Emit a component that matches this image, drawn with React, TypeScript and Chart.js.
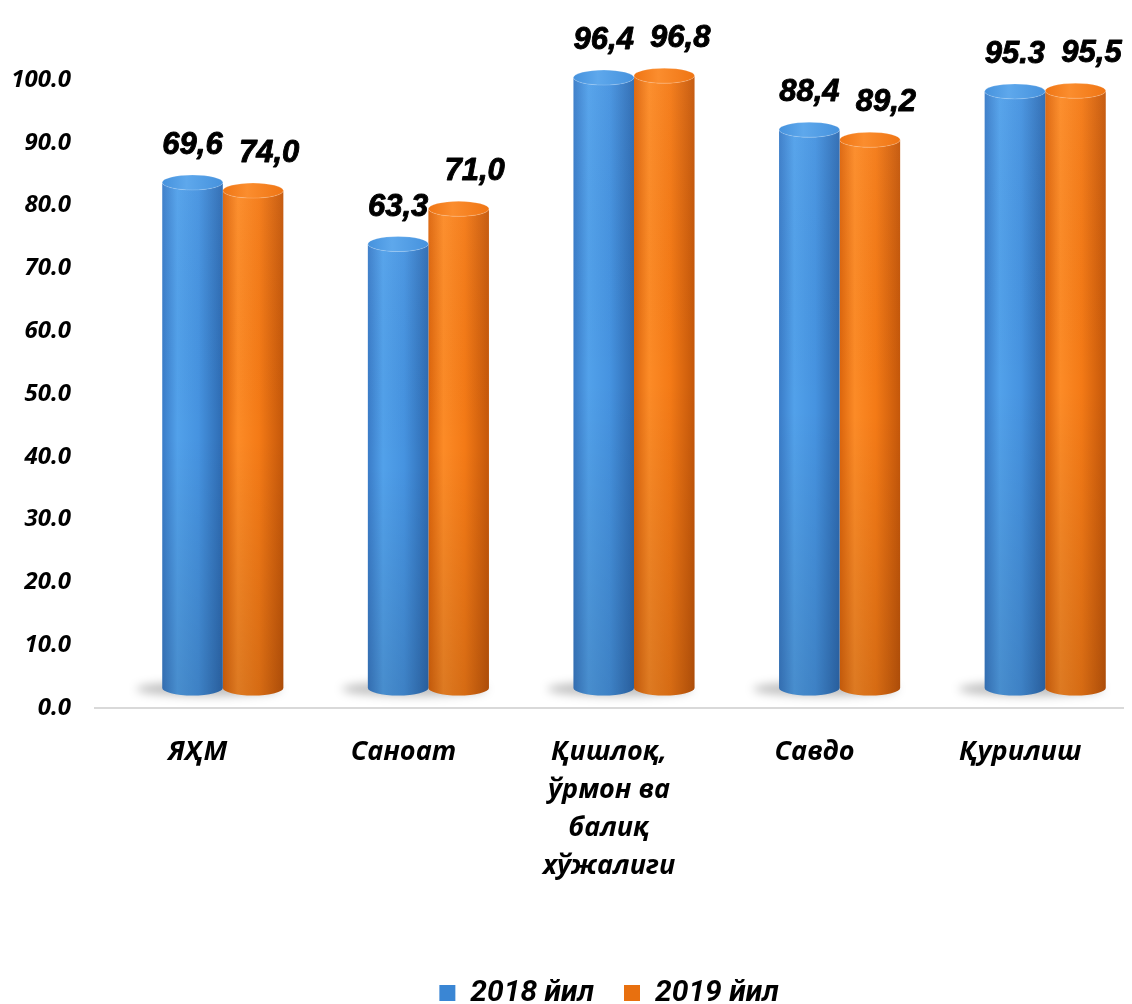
import React, { useEffect, useRef } from 'react';
import { Chart, registerables } from 'chart.js';

Chart.register(...registerables);

// ---------- data ----------
const categories: (string | string[])[] = [
  'ЯҲМ',
  'Саноат',
  ['Қишлоқ,', 'ўрмон ва', 'балиқ', 'хўжалиги'],
  'Савдо',
  'Қурилиш',
];
const seriesNames = ['2018 йил', '2019 йил'];
const values2018 = [80.5, 70.7, 97.2, 88.9, 95.0];
const values2019 = [79.2, 76.3, 97.5, 87.3, 95.1];
const valueLabels2018 = ['69,6', '63,3', '96,4', '88,4', '95.3'];
const valueLabels2019 = ['74,0', '71,0', '96,8', '89,2', '95,5'];
const yMin = 0;
const yMax = 100;
const yStep = 10;

// ---------- styles ----------
const CAL_FONT = "'Open Sans', 'Noto Sans', sans-serif";
const ARIAL_FONT = "'Liberation Sans', Arial, sans-serif";
const LEGEND_FONT = "Roboto, 'Liberation Sans', sans-serif";
const PALETTE = [
  {
    side: ['#3a7cc8', '#52a1ea', '#4693e0', '#2e6bb2'],
    top: '#4692dd', topLight: '#5ea8ec', legend: '#3a86d4',
  },
  {
    side: ['#dc650c', '#fc8b27', '#f47a16', '#c4570a'],
    top: '#ef7514', topLight: '#fb8d2e', legend: '#e8700f',
  },
];
const SIDE_STOPS = [0, 0.25, 0.6, 1];
const DEPTH_DX = 25;
const DEPTH_DY = -20;
const CAP_RY = 7.5;
const LABEL_GAP = 21;
const LABEL_DX = [0, 16];

function drawCylinder(ctx: CanvasRenderingContext2D, x: number, yTop: number, yBase: number, w: number, c: any) {
  const rx = w / 2;
  const ry = CAP_RY;
  const side = ctx.createLinearGradient(x - rx, 0, x + rx, 0);
  c.side.forEach((col: string, k: number) => side.addColorStop(SIDE_STOPS[k], col));
  ctx.beginPath();
  ctx.moveTo(x - rx, yTop);
  ctx.lineTo(x - rx, yBase);
  ctx.ellipse(x, yBase, rx, ry, 0, Math.PI, 0, true);
  ctx.lineTo(x + rx, yTop);
  ctx.ellipse(x, yTop, rx, ry, 0, 0, Math.PI, false);
  ctx.closePath();
  ctx.fillStyle = side;
  ctx.fill();
  const vg = ctx.createLinearGradient(0, yTop, 0, yBase);
  vg.addColorStop(0, 'rgba(255,255,255,0.04)');
  vg.addColorStop(0.5, 'rgba(0,0,0,0)');
  vg.addColorStop(1, 'rgba(0,0,0,0.12)');
  ctx.fillStyle = vg;
  ctx.fill();

  const tg = ctx.createLinearGradient(x - rx, 0, x + rx, 0);
  tg.addColorStop(0, c.top);
  tg.addColorStop(0.4, c.topLight);
  tg.addColorStop(1, c.top);
  ctx.beginPath();
  ctx.ellipse(x, yTop, rx, ry, 0, 0, Math.PI * 2);
  ctx.fillStyle = tg;
  ctx.fill();
  ctx.strokeStyle = 'rgba(255,255,255,0.18)';
  ctx.lineWidth = 1;
  ctx.stroke();
}

const cylinderPlugin = {
  id: 'cylinders',
  afterDatasetsDraw(chart: any) {
    const ctx: CanvasRenderingContext2D = chart.ctx;
    const metas = [chart.getDatasetMeta(0), chart.getDatasetMeta(1)];
    const texts = [valueLabels2018, valueLabels2019];
    ctx.save();
    ctx.translate(DEPTH_DX, DEPTH_DY);

    // floor shadows
    const n = metas[0].data.length;
    for (let j = 0; j < n; j++) {
      const a = metas[0].data[j];
      const b = metas[1].data[j];
      const cx = (a.x + b.x) / 2;
      ctx.save();
      ctx.filter = 'blur(5px)';
      ctx.fillStyle = 'rgba(0,0,0,0.26)';
      ctx.beginPath();
      ctx.ellipse(cx - 14, a.base + 1, (b.x - a.x) + 12, 7, 0, 0, Math.PI * 2);
      ctx.fill();
      ctx.restore();
    }

    // cylinders: orange first, blue on top
    for (const di of [1, 0]) {
      metas[di].data.forEach((el: any) => {
        drawCylinder(ctx, el.x, el.y, el.base, el.width, PALETTE[di]);
      });
    }

    // value labels
    ctx.fillStyle = '#000';
    ctx.strokeStyle = '#000';
    ctx.lineWidth = 0.9;
    ctx.lineJoin = 'round';
    ctx.textAlign = 'center';
    ctx.textBaseline = 'alphabetic';
    ctx.font = `italic bold 31px ${ARIAL_FONT}`;
    for (const di of [0, 1]) {
      metas[di].data.forEach((el: any, j: number) => {
        const tx = el.x + LABEL_DX[di];
        const ty = el.y - CAP_RY - LABEL_GAP;
        ctx.fillText(texts[di][j], tx, ty);
        ctx.strokeText(texts[di][j], tx, ty);
      });
    }
    ctx.restore();
  },
};

export default function App() {
  const ref = useRef<HTMLCanvasElement>(null);
  useEffect(() => {
    const chart = new Chart(ref.current as HTMLCanvasElement, {
      type: 'bar',
      data: {
        labels: categories as any,
        datasets: [
          { label: seriesNames[0], data: values2018, backgroundColor: 'rgba(0,0,0,0)', borderWidth: 0, clip: false as any },
          { label: seriesNames[1], data: values2019, backgroundColor: 'rgba(0,0,0,0)', borderWidth: 0, clip: false as any },
        ],
      },
      options: {
        animation: false,
        responsive: false,
        devicePixelRatio: 1,
        layout: { padding: { top: 80, right: 9, left: 0, bottom: -14 } },
        datasets: { bar: { categoryPercentage: 0.589, barPercentage: 1 } } as any,
        scales: {
          x: {
            grid: { display: false, drawTicks: false },
            border: { display: true, color: '#d9d9d9', width: 2 },
            ticks: {
              color: '#000',
              padding: 25,
              maxRotation: 0,
              autoSkip: false,
              font: { family: CAL_FONT, size: 27, weight: 'bold', style: 'italic', lineHeight: 38 / 27 },
            },
            afterFit: (scale: any) => { scale.height = 240; },
          },
          y: {
            min: yMin,
            max: yMax,
            grid: { display: false, drawTicks: false },
            border: { display: false },
            ticks: {
              stepSize: yStep,
              color: '#000',
              padding: 24,
              font: { family: CAL_FONT, size: 24, weight: 'bold', style: 'italic' },
              callback: (v: any) => Number(v).toFixed(1),
            },
            afterFit: (scale: any) => { scale.width = 95; },
          },
        },
        plugins: {
          tooltip: { enabled: false },
          legend: {
            position: 'bottom',
            fullSize: false,
            labels: {
              color: '#000',
              boxWidth: 16,
              boxHeight: 16,
              padding: 30,
              font: { family: LEGEND_FONT, size: 30, weight: 'bold', style: 'italic' },
              generateLabels: (ch: any) =>
                ch.data.datasets.map((ds: any, i: number) => ({
                  text: ds.label,
                  fillStyle: PALETTE[i].legend,
                  strokeStyle: PALETTE[i].legend,
                  lineWidth: 0,
                  hidden: false,
                  datasetIndex: i,
                  fontColor: '#000',
                })),
            },
          },
        },
      } as any,
      plugins: [cylinderPlugin],
    });
    return () => chart.destroy();
  }, []);
  return (
    <canvas
      ref={ref}
      width={1132}
      height={1004}
      style={{ position: 'fixed', left: 0, top: 0, width: '1132px', height: '1004px', display: 'block' }}
    />
  );
}
